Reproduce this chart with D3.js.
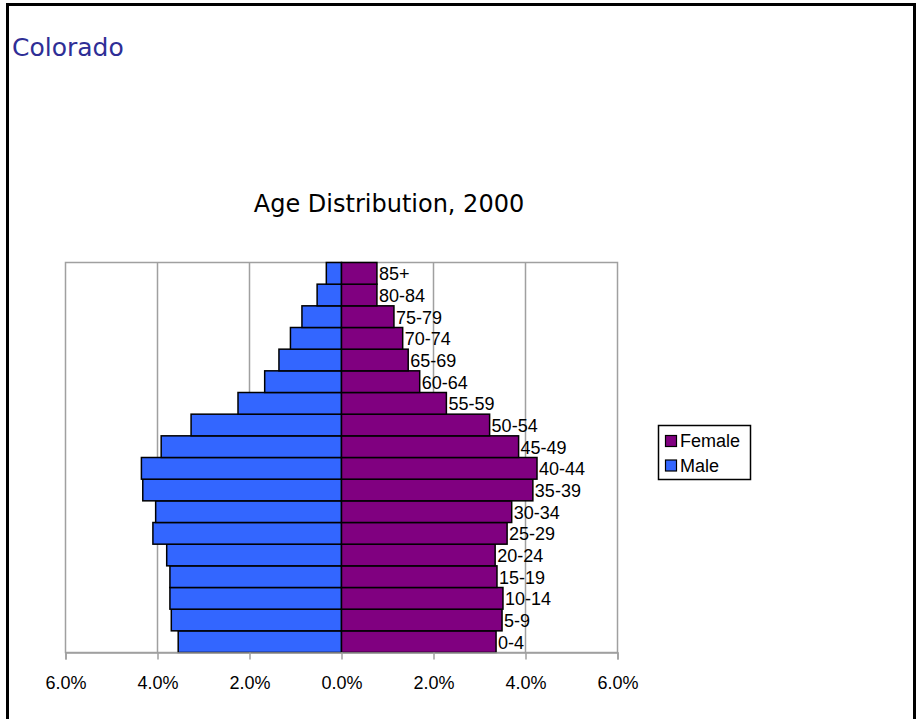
<!DOCTYPE html>
<html>
<head>
<meta charset="utf-8">
<script src="https://cdn.jsdelivr.net/npm/d3@7"></script>
<style>
  html, body { margin: 0; padding: 0; background: #fff; }
  svg { display: block; }
</style>
</head>
<body>
<svg id="chart" width="917" height="719"></svg>
<script>
const ageGroups = ["0-4","5-9","10-14","15-19","20-24","25-29","30-34","35-39","40-44","45-49","50-54","55-59","60-64","65-69","70-74","75-79","80-84","85+"];
const maleValues = [3.55,3.70,3.73,3.73,3.80,4.10,4.04,4.32,4.35,3.92,3.27,2.25,1.67,1.36,1.11,0.86,0.53,0.33];
const femaleValues = [3.36,3.49,3.51,3.38,3.34,3.60,3.70,4.16,4.25,3.85,3.22,2.28,1.70,1.45,1.33,1.14,0.77,0.77];
const tickValues = [-6,-4,-2,0,2,4,6];
const seriesNames = ["Female","Male"];
const seriesColors = ["#800080","#3366FF"];
const pageTitle = "Colorado";
const chartTitle = "Age Distribution, 2000";

(function(){
const svg = d3.select("#chart");
const font = "'Liberation Sans', Arial, sans-serif";

svg.append("rect").attr("x",7.5).attr("y",4.5).attr("width",907).attr("height",730)
  .attr("fill","#fff").attr("stroke","#000").attr("stroke-width",3);

svg.append("text").attr("x",12).attr("y",56).text(pageTitle)
  .attr("font-family","'DejaVu Sans', Tahoma, sans-serif").attr("font-size",25)
  .attr("fill","#2e2e96");

svg.append("text").attr("x",389).attr("y",212).attr("text-anchor","middle").text(chartTitle)
  .attr("font-family","'DejaVu Sans', Tahoma, sans-serif").attr("font-size",24)
  .attr("fill","#000");

const pLeft = 65.5, pRight = 617.5, pTop = 262.5, pBottom = 652.5;
const x = d3.scaleLinear().domain([-6,6]).range([pLeft,pRight]);
const y = d3.scaleBand().domain(ageGroups.slice().reverse()).range([pTop,pBottom]).padding(0);

svg.append("rect").attr("x",pLeft).attr("y",pTop).attr("width",pRight-pLeft).attr("height",pBottom-pTop)
  .attr("fill","#fff").attr("stroke","#a0a0a0").attr("stroke-width",1.5);

svg.append("g").selectAll("line").data(tickValues.filter(d => d !== 0 && Math.abs(d) !== 6)).join("line")
  .attr("x1",d=>x(d)).attr("x2",d=>x(d)).attr("y1",pTop).attr("y2",pBottom)
  .attr("stroke","#a0a0a0").attr("stroke-width",1.5);

const data = ageGroups.map((a,i)=>({age:a, male:maleValues[i], female:femaleValues[i]}));
svg.append("g").selectAll("rect").data(data).join("rect")
  .attr("x",d=>x(-d.male)).attr("y",d=>y(d.age))
  .attr("width",d=>x(0)-x(-d.male)).attr("height",y.bandwidth())
  .attr("fill",seriesColors[1]).attr("stroke","#000").attr("stroke-width",1.5);
svg.append("g").selectAll("rect").data(data).join("rect")
  .attr("x",x(0)).attr("y",d=>y(d.age))
  .attr("width",d=>x(d.female)-x(0)).attr("height",y.bandwidth())
  .attr("fill",seriesColors[0]).attr("stroke","#000").attr("stroke-width",1.5);

svg.append("g").selectAll("text").data(data).join("text")
  .attr("x",d=>x(d.female)+2).attr("y",d=>y(d.age)+y.bandwidth()/2+7)
  .text(d=>d.age).attr("font-family",font).attr("font-size",18).attr("fill","#000");

const axis = d3.axisBottom(x).tickValues(tickValues)
  .tickFormat(d=>Math.abs(d).toFixed(1)+"%").tickSize(7).tickPadding(17);
const gAxis = svg.append("g").attr("transform",`translate(0,${pBottom})`).call(axis);
gAxis.select(".domain").attr("stroke","#a0a0a0").attr("stroke-width",1.5);
gAxis.selectAll(".tick line").attr("stroke","#a0a0a0").attr("stroke-width",1.5);
gAxis.selectAll(".tick text").attr("font-family",font).attr("font-size",18).attr("fill","#000");

const lg = svg.append("g");
lg.append("rect").attr("x",658.5).attr("y",425.5).attr("width",92).attr("height",54)
  .attr("fill","#fff").attr("stroke","#000").attr("stroke-width",1.5);
seriesNames.forEach((n,i)=>{
  const yy = 435 + i*24.5;
  lg.append("rect").attr("x",665.5).attr("y",yy+0.5).attr("width",11).attr("height",11)
    .attr("fill",seriesColors[i]).attr("stroke","#000").attr("stroke-width",1.2);
  lg.append("text").attr("x",680).attr("y",yy+12).text(n)
    .attr("font-family",font).attr("font-size",18).attr("fill","#000");
});
})();
</script>
</body>
</html>
